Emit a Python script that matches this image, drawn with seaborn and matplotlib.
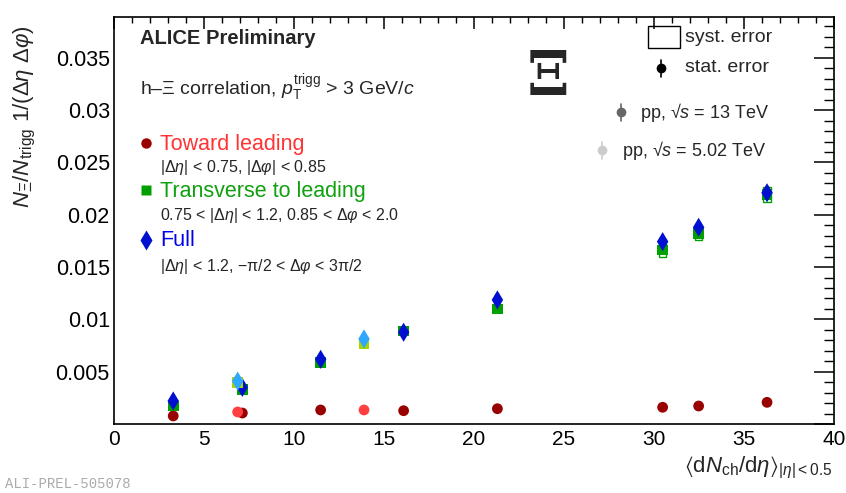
import numpy as np
import pandas as pd
import matplotlib
matplotlib.use("Agg")
import matplotlib.pyplot as plt
import seaborn as sns
from matplotlib.patches import Rectangle
from matplotlib.ticker import MultipleLocator, FuncFormatter

# ---------------- data ----------------
x_13 = [3.29, 7.13, 11.48, 16.09, 21.30, 30.48, 32.48, 36.28]
toward_13 = [0.00077, 0.00105, 0.00134, 0.00127, 0.00146, 0.00160, 0.00172, 0.00207]
trans_13 = [0.00172, 0.00330, 0.00586, 0.00890, 0.01100, 0.01663, 0.01823, 0.02196]
full_13 = [0.00220, 0.00350, 0.00618, 0.00877, 0.01186, 0.01743, 0.01880, 0.02210]
stat_full_13 = [0.0001, 0.0001, 0.0002, 0.0002, 0.0002, 0.0004, 0.0004, 0.0006]
syst_trans_13 = [0.0002, 0.0002, 0.0003, 0.0003, 0.0003, 0.0007, 0.0006, 0.0007]

x_502 = [6.87, 13.89]
toward_502 = [0.00115, 0.00134]
trans_502 = [0.00395, 0.00771]
full_502 = [0.00410, 0.00813]

x_ticks = [0, 5, 10, 15, 20, 25, 30, 35, 40]

# colours
c_tow13, c_tow502 = "#990000", "#ff4040"
c_tr13, c_tr502 = "#00a000", "#a8d400"
c_fu13, c_fu502 = "#0010d0", "#30a8ff"

sns.set_theme(style="white")
plt.rcParams["font.family"] = ["Liberation Sans", "DejaVu Sans"]
plt.rcParams["mathtext.fontset"] = "custom"
plt.rcParams["mathtext.rm"] = "Liberation Sans"
plt.rcParams["mathtext.it"] = "Liberation Sans:italic"
plt.rcParams["mathtext.bf"] = "Liberation Sans:bold"
plt.rcParams["mathtext.fallback"] = "stixsans"

W, H = 846, 493
fig = plt.figure(figsize=(W / 100, H / 100), dpi=100)
ax = fig.add_axes([114 / W, 1 - 424 / H, 720 / W, 407 / H])

# syst boxes (open) for transverse 13 TeV
for xi, yi, si in zip(x_13, trans_13, syst_trans_13):
    ax.add_patch(Rectangle((xi - 0.2, yi - si), 0.4, 2 * si, fill=False,
                           edgecolor=c_tr13, lw=1.0, zorder=2))
# stat error bars for full 13 TeV
ax.errorbar(x_13, full_13, yerr=stat_full_13, fmt="none", ecolor=c_fu13,
            elinewidth=2.0, capsize=0, zorder=3)

def scat(x, y, color, marker, s, z):
    df = pd.DataFrame({"x": x, "y": y})
    sns.scatterplot(data=df, x="x", y="y", color=color, marker=marker, s=s,
                    edgecolor="none", linewidth=0, ax=ax, zorder=z, legend=False)

scat(x_13, toward_13, c_tow13, "o", 60, 4)
scat(x_13, trans_13, c_tr13, "s", 60, 4)
scat(x_13, full_13, c_fu13, "d", 95, 5)
scat(x_502, toward_502, c_tow502, "o", 60, 6)
scat(x_502, trans_502, c_tr502, "s", 60, 6)
scat(x_502, full_502, c_fu502, "d", 95, 7)

ax.set_xlim(0, 40)
ax.set_ylim(0, 0.0389)
ax.set_xlabel("")
ax.set_ylabel("")
ax.set_xticks(x_ticks)
ax.xaxis.set_minor_locator(MultipleLocator(1))
ax.yaxis.set_major_locator(MultipleLocator(0.005))
ax.yaxis.set_minor_locator(MultipleLocator(0.001))
ax.yaxis.set_major_formatter(FuncFormatter(lambda v, p: "" if abs(v) < 1e-9 else f"{v:g}"))
ax.xaxis.set_major_formatter(FuncFormatter(lambda v, p: f"{v:g}"))
ax.tick_params(which="both", direction="in", top=True, right=True, colors="black")
ax.tick_params(axis="x", which="major", length=8.6, width=1.1, labelsize=15, pad=4)
ax.tick_params(axis="x", which="minor", length=4.3, width=1.0)
ax.tick_params(axis="y", which="major", length=14.4, width=1.1, labelsize=15.5, pad=3)
ax.tick_params(axis="y", which="minor", length=7.2, width=1.0)
for sp in ax.spines.values():
    sp.set_color("black")
    sp.set_linewidth(1.2)

# axis titles
fig.text(25 / W, 1 - 117 / H,
         r"$N_{\Xi}/N_{\rm trigg}\ 1/(\Delta\eta\ \Delta\varphi)$",
         rotation=90, ha="center", va="center", fontsize=16)
fig.text(832 / W, 1 - 472 / H,
         r"$\langle{\rm d}N_{\rm ch}/{\rm d}\eta\rangle_{|\eta|<0.5}$",
         ha="right", va="baseline", fontsize=16)

# overlay in pixel coordinates for annotations
ov = fig.add_axes([0, 0, 1, 1], facecolor="none")
ov.set_xlim(0, W)
ov.set_ylim(H, 0)
ov.axis("off")

ov.text(140, 38, "ALICE Preliminary", fontsize=14.5, fontweight="bold",
        ha="left", va="center")
ov.text(140, 95, r"h–Ξ correlation, $p_{\rm T}^{\rm trigg}$ > 3 GeV/$c$",
        fontsize=14, ha="left", va="baseline")

ov.plot(146, 143, "o", color=c_tow13, ms=7.5, mec="none")
ov.text(160, 150, "Toward leading", color="#ff3333", fontsize=15.5, va="baseline")
ov.text(160, 172, r"$|\Delta\eta|$ < 0.75, $|\Delta\varphi|$ < 0.85",
        fontsize=11.5, va="baseline")
ov.plot(146, 190, "s", color=c_tr13, ms=7.5, mec="none")
ov.text(160, 197, "Transverse to leading", color="#10a010", fontsize=15.5, va="baseline")
ov.text(160, 220, r"0.75 < $|\Delta\eta|$ < 1.2, 0.85 < $\Delta\varphi$ < 2.0",
        fontsize=11.5, va="baseline")
ov.plot(146, 240, "d", color=c_fu13, ms=10, mec="none")
ov.text(160, 246, "Full", color="#0000ee", fontsize=15.5, va="baseline")
ov.text(160, 271, r"$|\Delta\eta|$ < 1.2, −π/2 < $\Delta\varphi$ < 3π/2",
        fontsize=11.5, va="baseline")

# right legend
ov.add_patch(Rectangle((648, 26), 32, 22, fill=False, edgecolor="black", lw=1.0))
ov.text(685, 37, "syst. error", fontsize=14, va="center")
ov.plot([661, 661], [60, 77], color="black", lw=1.2)
ov.plot(661, 68, "o", color="black", ms=7, mec="none")
ov.text(685, 68, "stat. error", fontsize=14, va="center")

ov.text(548, 78, "Ξ", fontsize=44, fontweight="bold", family=["DejaVu Serif"],
        ha="center", va="center")

ov.plot([621, 621], [104, 121], color="#666666", lw=1.2)
ov.plot(621, 112, "o", color="#666666", ms=7, mec="none")
ov.text(640, 113, r"pp, √$s$ = 13 TeV", fontsize=13, va="center")
ov.plot([602, 602], [142, 159], color="#cccccc", lw=1.2)
ov.plot(602, 150, "o", color="#cccccc", ms=7, mec="none")
ov.text(622, 151, r"pp, √$s$ = 5.02 TeV", fontsize=13, va="center")

# watermark
fig.text(5 / W, 1 - 491 / H, "ALI-PREL-505078", family=["Liberation Mono"],
         fontsize=10, color="#aaaaaa", ha="left", va="bottom")

fig.savefig("out.png", dpi=100)
